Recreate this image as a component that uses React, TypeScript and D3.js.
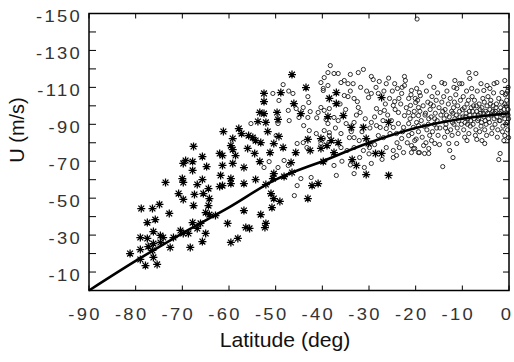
import React from "react";
import * as d3 from "d3";

// ---- data ----
const xTicks = [-90, -80, -70, -60, -50, -40, -30, -20, -10, 0];
const yMinorTicks = [-150, -140, -130, -120, -110, -100, -90, -80, -70, -60, -50, -40, -30, -20, -10, 0];
const yTickLabels = [-150, -130, -110, -90, -70, -50, -30, -10];

const fitLat = [-90, -80, -70, -60, -50, -40, -30, -20, -10, 0];
const fitU = [0, -16, -31, -45, -60, -70, -80, -88, -93, -96];

const asteriskPoints: [number, number][] = [
  [-81.2,-20.0],[-79.0,-22.2],[-79.0,-28.7],[-79.0,-16.8],[-78.8,-44.4],[-77.9,-13.5],[-77.5,-36.8],[-77.5,-28.2],
  [-77.3,-23.8],[-76.4,-44.4],[-76.4,-21.7],[-76.2,-31.9],[-76.2,-25.4],[-76.2,-17.9],[-75.8,-38.4],[-75.4,-14.1],
  [-74.9,-46.6],[-74.7,-29.8],[-74.7,-26.0],[-74.1,-28.7],[-73.6,-58.5],[-72.8,-41.7],[-72.6,-23.3],[-71.9,-28.7],
  [-70.8,-52.5],[-70.4,-32.5],[-70.0,-60.6],[-69.8,-58.5],[-69.8,-49.3],[-69.8,-30.9],[-69.8,-68.8],[-69.3,-70.4],
  [-68.7,-30.9],[-68.3,-23.3],[-67.8,-69.8],[-67.8,-65.0],[-67.8,-36.8],[-67.6,-78.0],[-67.6,-46.0],[-67.4,-52.0],
  [-66.8,-57.4],[-66.8,-33.6],[-66.1,-36.3],[-65.7,-72.5],[-65.7,-60.1],[-65.7,-26.5],[-65.5,-52.5],[-65.0,-42.2],
  [-65.0,-30.9],[-64.8,-67.1],[-64.4,-55.2],[-64.4,-46.0],[-64.2,-49.8],[-64.2,-41.1],[-62.9,-40.6],[-62.0,-74.2],
  [-62.0,-56.3],[-61.8,-62.3],[-61.4,-67.7],[-61.4,-56.8],[-61.4,-73.1],[-61.2,-86.1],[-60.3,-36.3],[-59.6,-78.5],
  [-59.6,-60.6],[-59.6,-57.9],[-59.6,-26.0],[-59.2,-68.8],[-59.2,-82.3],[-59.2,-76.3],[-58.6,-73.1],[-58.1,-28.2],
  [-57.9,-87.7],[-57.3,-85.0],[-56.8,-66.6],[-56.8,-57.9],[-56.8,-43.3],[-56.4,-34.1],[-56.0,-76.9],[-55.8,-83.9],
  [-55.6,-33.6],[-54.9,-82.8],[-54.5,-74.2],[-54.3,-81.2],[-54.3,-60.1],[-53.8,-91.5],[-53.4,-96.4],[-53.4,-69.8],
  [-53.2,-80.1],[-53.2,-41.1],[-52.5,-106.7],[-52.5,-102.3],[-52.5,-95.8],[-52.3,-34.1],[-52.1,-91.0],[-52.1,-36.3],
  [-52.1,-57.4],[-51.7,-86.1],[-51.2,-74.7],[-51.0,-52.5],[-50.8,-44.9],[-50.6,-60.6],[-50.4,-63.3],[-50.4,-79.6],
  [-50.4,-49.8],[-49.7,-96.4],[-49.5,-92.6],[-49.3,-83.4],[-49.1,-48.2],[-48.9,-107.2],[-48.4,-77.4],[-48.2,-61.7],
  [-46.7,-69.3],[-46.5,-63.9],[-46.5,-116.9],[-46.1,-101.2],[-45.7,-74.7],[-44.6,-95.8],[-43.5,-109.9],[-43.1,-49.8],
  [-43.1,-81.8],[-42.6,-75.8],[-42.2,-56.8],[-40.9,-57.9],[-40.3,-82.3],[-40.3,-76.9],[-39.8,-69.8],[-39.0,-78.5],
  [-38.8,-94.2],[-38.5,-104.0],[-37.0,-107.2],[-37.0,-101.2],[-36.6,-80.1],[-38.1,-81.2],[-37.5,-74.7],[-35.5,-94.7],
  [-33.8,-88.3],[-33.6,-70.9],[-32.7,-67.7],[-31.2,-88.3],[-30.6,-82.3],[-30.1,-79.6],[-30.6,-62.8],[-28.6,-74.2],
  [-27.3,-74.2],[-27.3,-104.5],[-25.8,-91.0],[-25.8,-62.3],
];

const circlePoints: [number, number][] = [
  [-55.3,-90.4],[-52.5,-66.6],[-51.4,-69.8],[-50.6,-106.7],[-49.3,-102.9],[-49.5,-90.4],[-49.9,-83.9],[-48.4,-111.5],
  [-47.2,-108.0],[-46.3,-106.7],[-48.2,-70.4],[-47.3,-67.7],[-49.5,-66.6],[-46.0,-51.4],[-45.4,-56.8],[-44.6,-60.6],
  [-42.4,-61.2],[-47.3,-97.5],[-47.1,-92.0],[-45.6,-98.5],[-44.1,-99.1],[-45.0,-93.7],[-43.1,-93.7],[-44.0,-89.3],
  [-42.8,-86.6],[-41.3,-85.0],[-45.4,-79.6],[-44.1,-80.1],[-43.3,-77.4],[-43.1,-105.0],[-42.9,-101.8],[-40.3,-112.6],
  [-39.8,-109.4],[-38.8,-111.0],[-42.6,-96.9],[-40.9,-96.4],[-39.6,-97.5],[-41.2,-93.5],[-39.2,-92.6],[-38.5,-85.5],
  [-38.3,-121.8],[-38.8,-118.0],[-37.5,-117.5],[-36.6,-117.5],[-34.0,-117.0],[-32.3,-118.0],[-31.2,-119.7],[-39.6,-115.3],
  [-29.5,-115.9],[-29.1,-114.2],[-27.8,-113.2],[-26.3,-112.0],[-22.4,-115.9],[-22.2,-113.7],[-22.4,-111.0],[-24.5,-112.0],
  [-23.9,-109.4],[-20.9,-108.3],[-19.8,-109.4],[-19.2,-107.2],[-39.8,-108.3],[-36.0,-112.6],[-35.3,-113.7],[-34.5,-112.0],
  [-33.4,-112.0],[-35.3,-105.6],[-34.5,-105.0],[-33.2,-104.0],[-32.5,-102.3],[-30.1,-104.5],[-29.5,-106.7],[-28.0,-106.7],
  [-25.6,-104.0],[-24.5,-102.3],[-24.8,-100.2],[-23.0,-106.7],[-21.5,-104.0],[-21.1,-100.2],[-20.0,-101.8],[-19.4,-99.1],
  [-40.3,-99.1],[-38.5,-98.5],[-32.3,-99.1],[-31.9,-96.4],[-28.4,-98.5],[-27.6,-96.4],[-26.7,-97.5],[-23.7,-96.4],
  [-22.4,-94.7],[-21.5,-96.4],[-20.5,-94.7],[-19.4,-94.7],[-37.5,-93.7],[-36.6,-92.0],[-34.9,-90.4],[-33.2,-91.0],
  [-29.5,-91.0],[-28.4,-89.3],[-27.6,-88.3],[-26.3,-87.7],[-24.8,-88.3],[-23.7,-90.4],[-22.6,-88.3],[-21.5,-90.4],
  [-20.5,-88.3],[-19.4,-89.3],[-38.8,-90.4],[-39.6,-86.6],[-38.5,-83.9],[-36.0,-85.0],[-34.2,-82.8],[-33.2,-82.8],
  [-32.1,-81.2],[-28.0,-83.9],[-26.9,-82.8],[-24.1,-85.0],[-23.0,-82.3],[-21.5,-83.9],[-20.2,-81.2],[-20.9,-78.5],
  [-39.8,-82.3],[-40.3,-79.6],[-36.0,-77.4],[-34.7,-75.8],[-33.2,-77.4],[-31.2,-75.8],[-29.9,-77.4],[-26.3,-77.4],
  [-24.8,-75.8],[-23.5,-77.4],[-22.6,-74.7],[-24.1,-73.1],[-24.8,-72.0],[-20.9,-74.7],[-20.2,-76.9],[-37.0,-62.3],
  [-33.2,-63.3],[-31.0,-66.6],[-29.5,-68.8],[-37.5,-67.7],
  [-26.0,-95.0],[-25.2,-92.0],[-24.4,-98.0],[-23.2,-101.0],[-22.0,-99.0],[-21.2,-93.0],[-20.3,-97.0],[-19.8,-91.0],
  [-25.5,-85.0],[-24.0,-80.0],[-22.8,-86.0],[-21.8,-80.0],[-20.8,-85.0],[-19.9,-82.0],[-26.5,-101.0],[-25.0,-108.0],
  [-23.6,-104.0],[-22.9,-110.0],[-21.0,-106.0],[-20.1,-104.0],[-27.0,-92.0],[-28.8,-94.0],[-29.8,-88.0],[-30.8,-93.0],
  [-31.5,-86.0],[-32.7,-95.0],[-33.8,-86.0],[-35.0,-98.0],[-36.2,-101.0],[-37.2,-88.0],[-30.5,-108.0],[-31.8,-110.0],
  [-34.0,-108.0],[-28.5,-110.0],[-26.8,-108.0],[-25.8,-115.0],[-35.8,-70.0],[-34.0,-68.0],[-32.0,-72.0],[-30.0,-74.0],
  [-28.8,-79.0],[-27.2,-71.0],
  [-19.6,-103],[-19.1,-97],[-18.8,-92],[-19.4,-86],[-18.6,-83],[-19.0,-105.5],[-18.4,-100],[-18.2,-89],
  [-17.7,-108],[-17.4,-102],[-17.9,-96],[-17.2,-93],[-17.6,-87],[-17.0,-84],[-17.8,-80],[-16.9,-98],
  [-16.5,-105],[-16.2,-100],[-16.7,-94],[-16.0,-90],[-16.4,-86],[-15.8,-96],[-15.6,-103],[-16.1,-110],
  [-15.3,-107],[-15.0,-99],[-15.4,-92],[-14.8,-88],[-15.2,-84],[-14.6,-95],[-14.4,-102],[-14.9,-79],
  [-14.0,-105],[-13.7,-98],[-13.9,-93],[-13.5,-90],[-13.2,-86],[-13.8,-83],[-13.0,-101],[-13.3,-108],
  [-12.6,-104],[-12.3,-97],[-12.8,-94],[-12.1,-91],[-12.5,-87],[-11.9,-99],[-11.7,-102],[-12.2,-84],
  [-11.4,-106],[-11.0,-100],[-11.3,-95],[-10.8,-92],[-11.1,-88],[-10.6,-97],[-10.4,-103],[-10.9,-85],[-10.2,-90],
  [-9.8,-105],[-9.6,-99],[-9.9,-94],[-9.4,-91],[-9.7,-87],[-9.2,-96],[-9.0,-101],[-9.5,-83],[-9.1,-108],
  [-8.7,-103],[-8.5,-97],[-8.8,-93],[-8.3,-89],[-8.6,-85],[-8.1,-99],[-7.9,-105],[-8.2,-92],
  [-7.6,-100],[-7.3,-95],[-7.7,-90],[-7.1,-87],[-7.4,-103],[-6.9,-97],[-6.7,-92],[-7.2,-84],[-6.8,-108],
  [-6.4,-101],[-6.1,-96],[-6.5,-93],[-6.0,-89],[-6.3,-86],[-5.8,-99],[-5.6,-104],[-5.9,-91],
  [-5.3,-102],[-5.0,-97],[-5.4,-94],[-4.9,-90],[-5.2,-87],[-4.7,-100],[-4.5,-105],[-4.8,-84],[-4.4,-93],
  [-4.1,-98],[-3.8,-95],[-4.2,-91],[-3.6,-88],[-3.9,-103],[-3.4,-100],[-3.2,-93],[-3.7,-85],[-3.3,-107],
  [-2.9,-97],[-2.6,-94],[-3.0,-90],[-2.4,-87],[-2.7,-101],[-2.2,-104],[-2.0,-96],[-2.5,-83],
  [-1.8,-99],[-1.5,-95],[-1.9,-92],[-1.3,-89],[-1.6,-102],[-1.1,-98],[-0.9,-93],[-1.4,-86],[-0.8,-106],
  [-0.6,-100],[-0.4,-96],[-0.7,-90],[-0.3,-87],[-0.5,-103],[-0.2,-98],[-0.1,-93],[-0.3,-108],
  [-18.0,-95],[-16.8,-101],[-15.9,-93],[-14.2,-97],[-13.4,-95],[-12.0,-96],[-11.6,-93],[-10.0,-98],[-9.3,-94],
  [-8.4,-95],[-7.8,-97],[-7.0,-100],[-6.2,-98],[-5.5,-96],[-4.6,-96],[-4.0,-101],[-3.5,-97],[-2.8,-99],[-2.1,-92],
  [-1.2,-95],[-0.9,-101],[-0.4,-91],[-17.3,-90],[-15.5,-88],[-13.6,-88],[-11.8,-90],[-10.5,-94],[-8.9,-90],
  [-7.5,-93],[-6.6,-95],[-5.1,-92],[-3.1,-96],[-1.7,-97],[-0.2,-95],
  [-17.0,-116],[-14.4,-112.6],[-13.8,-112],[-10.6,-112],[-8.4,-114.8],[-7.1,-117.5],[-6.0,-112],[-4.7,-111],
  [-3.2,-112],[-2.6,-112.6],[-0.9,-113.7],[-0.2,-110],[-18.7,-112.6],[-11.2,-109.4],[-11.8,-110],[-8.0,-109.4],
  [-5.4,-108.3],[-4.1,-109.4],[-1.5,-107.2],[-0.6,-106.7],[-8.6,-118],[-11.6,-113.7],[-10.1,-112],
  [-17.2,-74.2],[-14.2,-67.1],[-12.0,-72],[-2.2,-70.9],[-1.9,-74.2],[-5.2,-79.6],[-5.8,-81.2],[-9.0,-81.2],
  [-6.9,-81.8],[-11.2,-79.6],[-12.9,-79.6],[-12.7,-75.8],[-19.2,-74.7],[-18.3,-78.5],[-15.9,-79.6],[-16.6,-81.2],
  [-1.1,-81.2],[-0.9,-83.9],[-0.1,-82.8],[-20.5,-76.9],[-19.4,-74.7],[-18.1,-74.2],[-17.2,-76.9],
  [-19.7,-147],
];

const x = d3.scaleLinear().domain([-90, 0]).range([89, 509]);
const y = d3.scaleLinear().domain([0, -150]).range([290.5, 13.5]);

const fitLine = d3
  .line<number>()
  .x((_, i) => x(fitLat[i]))
  .y((d) => y(d))
  .curve(d3.curveCatmullRom.alpha(0.5));

const STAR = "M-4,0H4M0,-4V4M-2.9,-2.9L2.9,2.9M-2.9,2.9L2.9,-2.9";
const tickFont = { fontFamily: "Liberation Sans, Arial, sans-serif", fontSize: 16, letterSpacing: 2, fill: "#333" };

export default function App() {
  const [x0, x1] = x.range();
  const [yb, yt] = y.range();
  return (
    <svg width={514} height={362} style={{ position: "absolute", left: 0, top: 0, background: "#fff" }}>
      <rect width={514} height={362} fill="#fff" />
      <g fill="none" stroke="#1a1a1a" strokeWidth={0.9}>
        {circlePoints.map((p, i) => (
          <circle key={i} cx={x(p[0])} cy={y(p[1])} r={2.1} />
        ))}
      </g>
      <g fill="none" stroke="#000" strokeWidth={1.25}>
        {asteriskPoints.map((p, i) => (
          <path key={i} d={STAR} transform={`translate(${x(p[0])},${y(p[1])})`} />
        ))}
      </g>
      <path d={fitLine(fitU) || ""} fill="none" stroke="#000" strokeWidth={2.6} />
      <rect x={x0} y={yt} width={x1 - x0} height={yb - yt} fill="none" stroke="#000" strokeWidth={1.5} />
      <g stroke="#000" strokeWidth={1}>
        {xTicks.map((t) => (
          <g key={t}>
            <line x1={x(t)} x2={x(t)} y1={yb} y2={yb - 5} />
            <line x1={x(t)} x2={x(t)} y1={yt} y2={yt + 5} />
          </g>
        ))}
        {yMinorTicks.map((t) => (
          <g key={t}>
            <line x1={x0} x2={x0 + 7} y1={y(t)} y2={y(t)} />
            <line x1={x1} x2={x1 - 6} y1={y(t)} y2={y(t)} />
          </g>
        ))}
      </g>
      {xTicks.map((t) => (
        <text
          key={t}
          transform={`translate(${x(t) - (t < 0 ? 4 : 2)},320) scale(1.15,1)`}
          textAnchor="middle"
          style={tickFont}
        >
          {String(t)}
        </text>
      ))}
      {yTickLabels.map((t) => (
        <text
          key={t}
          transform={`translate(82,${y(t) + 8.5}) scale(1.15,1)`}
          textAnchor="end"
          style={tickFont}
        >
          {String(t)}
        </text>
      ))}
      <text
        transform="translate(285,347) scale(1.06,1)"
        textAnchor="middle"
        style={{ fontFamily: "Liberation Sans, Arial, sans-serif", fontSize: 20, fill: "#111" }}
      >
        Latitude (deg)
      </text>
      <text
        transform="translate(24,130) rotate(-90)"
        textAnchor="middle"
        style={{ fontFamily: "Liberation Sans, Arial, sans-serif", fontSize: 20, fill: "#111" }}
      >
        U (m/s)
      </text>
    </svg>
  );
}
